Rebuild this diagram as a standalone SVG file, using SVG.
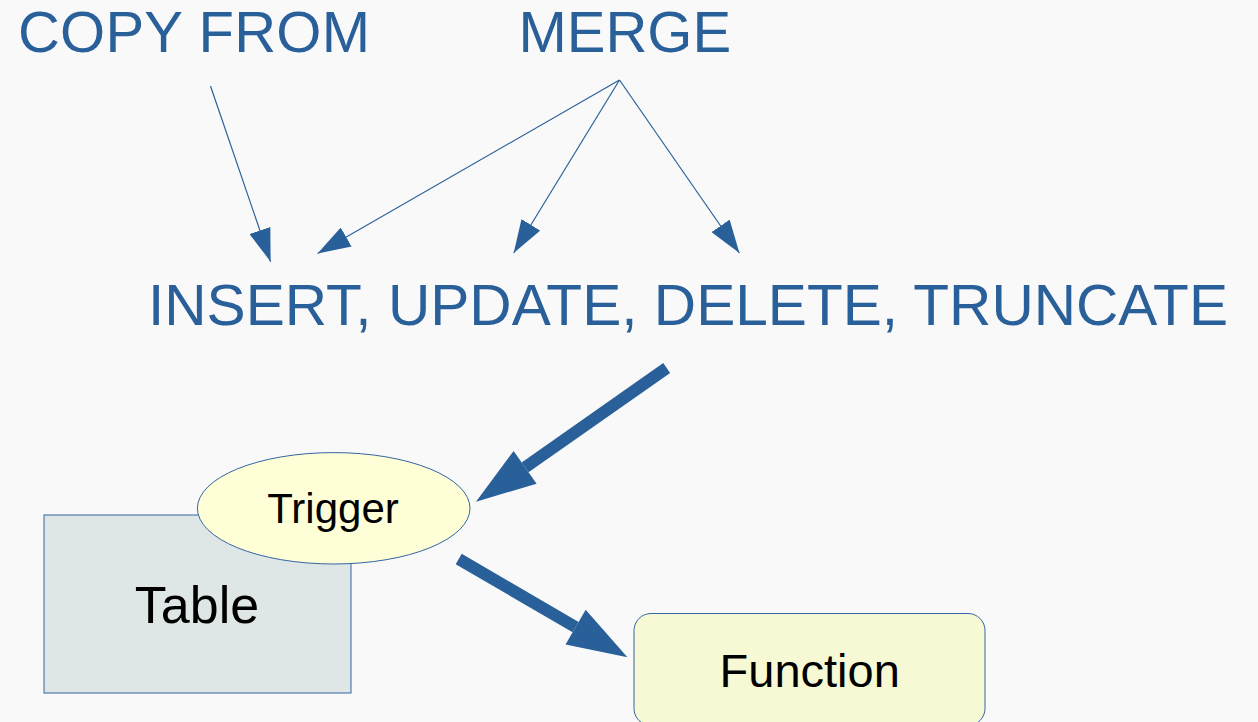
<svg xmlns="http://www.w3.org/2000/svg" width="1258" height="722" viewBox="0 0 1258 722">
  <style>
    .title { font-family: "Liberation Sans", Arial, sans-serif; fill: #2a6099; }
    .label { font-family: "Liberation Sans", Arial, sans-serif; fill: #000000; text-anchor: middle; }
    .thin { stroke: #2a6099; stroke-width: 1.2; fill: none; }
    .thick { stroke: #2a6099; stroke-width: 12; fill: none; stroke-linecap: butt; }
    .shape { stroke: #3465a4; stroke-width: 1; }
  </style>
  <defs>
    <marker id="head-thin" markerUnits="userSpaceOnUse" markerWidth="33" markerHeight="22" refX="33" refY="11" orient="auto">
      <path d="M0,0 L33,11 L0,22 Z" fill="#2a6099"/>
    </marker>
    <marker id="head-thick" markerUnits="userSpaceOnUse" markerWidth="60" markerHeight="40" refX="0" refY="20" orient="auto" overflow="visible">
      <path d="M0,0 L60,20 L0,40 Z" fill="#2a6099"/>
    </marker>
  </defs>

  <rect x="0" y="0" width="1258" height="722" fill="#f9f9fa"/>

  <g id="copy-from">
    <text class="title" x="18" y="52" font-size="58" textLength="352" lengthAdjust="spacing">COPY FROM</text>
  </g>

  <g id="merge">
    <text class="title" x="518.4" y="52" font-size="58">MERGE</text>
  </g>

  <g id="statements">
    <text class="title" x="148" y="325" font-size="57.7" textLength="1080" lengthAdjust="spacingAndGlyphs">INSERT, UPDATE, DELETE, TRUNCATE</text>
  </g>

  <g id="connectors">
    <line class="thin" x1="210.5" y1="86" x2="270.6" y2="261.7" marker-end="url(#head-thin)"/>
    <line class="thin" x1="619.5" y1="80" x2="317.6" y2="253.5" marker-end="url(#head-thin)"/>
    <line class="thin" x1="619.5" y1="80" x2="513.7" y2="253" marker-end="url(#head-thin)"/>
    <line class="thin" x1="619.5" y1="80" x2="739.4" y2="253" marker-end="url(#head-thin)"/>
    <line class="thick" x1="666.7" y1="368" x2="525.1" y2="467.3" marker-end="url(#head-thick)"/>
    <line class="thick" x1="458.7" y1="559" x2="575.6" y2="627.1" marker-end="url(#head-thick)"/>
  </g>

  <g id="table">
    <rect class="shape" x="44" y="515" width="307" height="178" fill="#dee6e6"/>
    <text class="label" x="197" y="623" font-size="52">Table</text>
  </g>

  <g id="trigger">
    <ellipse class="shape" cx="333.7" cy="508.3" rx="136.3" ry="55.7" fill="#ffffd7"/>
    <text class="label" x="333" y="522.7" font-size="42">Trigger</text>
  </g>

  <g id="function">
    <rect class="shape" x="634" y="613.5" width="351" height="112" rx="17" ry="17" fill="#f6f9d4"/>
    <text class="label" x="809.7" y="686.7" font-size="47">Function</text>
  </g>
</svg>
